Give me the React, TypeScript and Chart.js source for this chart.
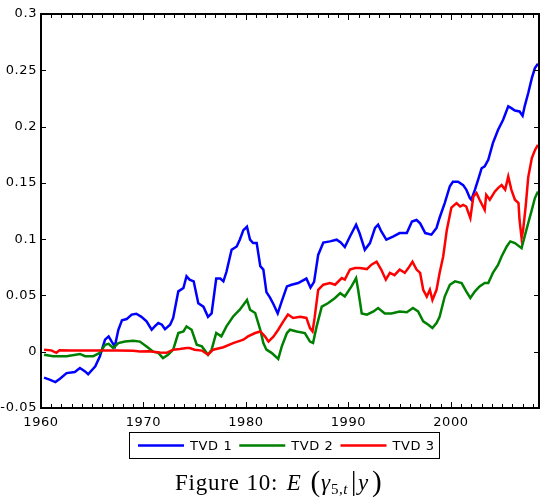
import { useEffect, useRef, useState } from 'react';
import { Chart, registerables } from 'chart.js';

Chart.register(...registerables);

// TVD 1 posterior mean path
const tvd1Years = [
  1960.3, 1960.9, 1961.4, 1961.85, 1962.5, 1963.3, 1963.8, 1964.3, 1964.6, 1965.3,
  1965.75, 1966.25, 1966.6, 1966.9, 1967.2, 1967.55, 1967.9, 1968.36, 1968.85, 1969.3,
  1969.8, 1970.3, 1970.8, 1971.1, 1971.45, 1971.8, 1972.1, 1972.6, 1972.9, 1973.4,
  1973.9, 1974.2, 1974.5, 1974.9, 1975.35, 1975.85, 1976.3, 1976.65, 1977.1, 1977.5,
  1977.8, 1978.1, 1978.6, 1979.1, 1979.4, 1979.75, 1980.1, 1980.4, 1980.7, 1981.05,
  1981.4, 1981.7, 1982.0, 1982.35, 1982.7, 1983.1, 1983.5, 1984.0, 1984.45, 1985.1,
  1985.4, 1985.9, 1986.3, 1986.65, 1987.05, 1987.55, 1988.2, 1988.85, 1989.25, 1989.65,
  1990.15, 1990.75, 1991.1, 1991.6, 1992.1, 1992.6, 1992.9, 1993.2, 1993.7, 1994.4,
  1995.0, 1995.7, 1996.2, 1996.65, 1997.0, 1997.5, 1998.1, 1998.6, 1998.9, 1999.4,
  1999.9, 2000.2, 2000.7, 2001.2, 2001.5, 2001.85, 2002.0, 2002.35, 2002.7, 2003.0,
  2003.3, 2003.65, 2004.1, 2004.6, 2005.1, 2005.6, 2005.9, 2006.25, 2006.7, 2007.0,
  2007.2, 2007.55, 2007.9, 2008.2, 2008.5,
];
const tvd1Values = [
  -0.023, -0.025, -0.027, -0.024, -0.019, -0.018, -0.0145, -0.0175, -0.02, -0.013,
  -0.004, 0.0107, 0.0136, 0.009, 0.0047, 0.0195, 0.028, 0.029, 0.033, 0.0337,
  0.031, 0.027, 0.0195, 0.0225, 0.0255, 0.024, 0.02, 0.024, 0.03, 0.0536,
  0.0566, 0.067, 0.064, 0.0625, 0.043, 0.04, 0.031, 0.034, 0.065, 0.065,
  0.0625, 0.071, 0.0906, 0.0935, 0.0995, 0.108, 0.111, 0.0995, 0.0965, 0.0965,
  0.076, 0.073, 0.053, 0.048, 0.042, 0.034, 0.045, 0.058, 0.0595, 0.061,
  0.0625, 0.065, 0.057, 0.062, 0.086, 0.097, 0.098, 0.0995, 0.097, 0.093,
  0.1024, 0.1128, 0.105, 0.0906, 0.0965, 0.11, 0.1128, 0.107, 0.0995, 0.1024,
  0.1054, 0.1054, 0.1157, 0.117, 0.114, 0.1054, 0.104, 0.11, 0.119, 0.132,
  0.147, 0.151, 0.151, 0.148, 0.144, 0.1365, 0.135, 0.144, 0.154, 0.163,
  0.1646, 0.1705, 0.1853, 0.197, 0.206, 0.218, 0.2164, 0.2143, 0.2134, 0.2096,
  0.218, 0.2298, 0.243, 0.252, 0.2558,
];

// TVD 2 posterior mean path
const tvd2Years = [
  1960.3, 1961.2, 1962.5, 1963.8, 1964.3, 1965.1, 1965.75, 1966.25, 1966.6, 1967.05,
  1967.55, 1968.2, 1969.0, 1969.65, 1970.3, 1970.95, 1971.45, 1971.9, 1972.4, 1972.9,
  1973.4, 1973.9, 1974.2, 1974.7, 1975.2, 1975.7, 1976.3, 1976.65, 1977.1, 1977.6,
  1978.1, 1978.75, 1979.4, 1980.1, 1980.4, 1980.9, 1981.4, 1981.7, 1982.0, 1982.5,
  1983.15, 1983.5, 1984.0, 1984.3, 1984.95, 1985.75, 1986.25, 1986.55, 1986.9, 1987.4,
  1988.0, 1988.7, 1989.2, 1989.65, 1990.3, 1990.75, 1990.95, 1991.3, 1991.8, 1992.45,
  1992.9, 1993.55, 1994.2, 1995.0, 1995.7, 1996.3, 1996.8, 1997.3, 1997.8, 1998.2,
  1998.6, 1998.9, 1999.4, 1999.9, 2000.4, 2001.05, 2001.5, 2001.9, 2002.35, 2002.8,
  2003.3, 2003.65, 2004.1, 2004.6, 2004.95, 2005.45, 2005.8, 2006.25, 2006.9, 2007.2,
  2007.55, 2007.9, 2008.2, 2008.5,
];
const tvd2Values = [
  -0.0027, -0.004, -0.004, -0.002, -0.004, -0.004, -0.001, 0.0062, 0.007, 0.0033,
  0.0077, 0.009, 0.0098, 0.009, 0.0047, 0.0, -0.001, -0.0056, -0.0027, 0.0018,
  0.0166, 0.018, 0.0225, 0.0195, 0.0062, 0.0047, -0.0027, 0.0018, 0.0166, 0.0136,
  0.0225, 0.0313, 0.0373, 0.046, 0.0373, 0.0344, 0.0195, 0.0077, 0.0018, -0.001,
  -0.0065, 0.0047, 0.0166, 0.0195, 0.018, 0.0166, 0.009, 0.0077, 0.0225, 0.04,
  0.043, 0.0477, 0.052, 0.049, 0.058, 0.0654, 0.055, 0.034, 0.0329, 0.0358,
  0.0388, 0.034, 0.034, 0.0358, 0.035, 0.0388, 0.0358, 0.027, 0.024, 0.021,
  0.0255, 0.031, 0.049, 0.0595, 0.0625, 0.061, 0.0536, 0.0477, 0.0536, 0.058,
  0.061, 0.061, 0.07, 0.077, 0.0846, 0.0935, 0.098, 0.0965, 0.092, 0.1024,
  0.1143, 0.126, 0.1365, 0.1424,
];

// TVD 3 posterior mean path
const tvd3Years = [
  1960.3, 1961.0, 1961.5, 1961.8, 1963.0, 1964.5, 1966.0, 1967.5, 1969.0, 1969.65,
  1970.5, 1971.6, 1972.25, 1972.9, 1973.55, 1974.2, 1974.5, 1975.0, 1975.7, 1976.3,
  1976.8, 1977.8, 1978.75, 1979.75, 1980.2, 1980.9, 1981.4, 1981.85, 1982.2, 1982.7,
  1983.15, 1983.65, 1984.1, 1984.6, 1985.3, 1985.9, 1986.25, 1986.5, 1986.7, 1987.05,
  1987.55, 1988.2, 1988.7, 1989.35, 1989.65, 1990.15, 1990.65, 1991.1, 1991.8, 1992.25,
  1992.75, 1993.2, 1993.65, 1994.05, 1994.5, 1995.0, 1995.5, 1995.85, 1996.25, 1996.65,
  1997.0, 1997.3, 1997.65, 1997.95, 1998.2, 1998.6, 1998.9, 1999.25, 1999.6, 2000.05,
  2000.55, 2000.9, 2001.2, 2001.5, 2001.9, 2002.2, 2002.5, 2002.8, 2003.3, 2003.45,
  2003.8, 2004.3, 2004.6, 2004.95, 2005.3, 2005.6, 2005.9, 2006.25, 2006.6, 2006.7,
  2006.9, 2007.05, 2007.3, 2007.55, 2007.9, 2008.2, 2008.5,
];
const tvd3Values = [
  0.0018, 0.0012, -0.001, 0.0012, 0.001, 0.001, 0.001, 0.001, 0.0008, 0.0003,
  0.0005, -0.0006, -0.001, 0.0018, 0.0024, 0.0033, 0.0033, 0.0018, 0.001, -0.0027,
  0.0018, 0.004, 0.0077, 0.0107, 0.0136, 0.0166, 0.018, 0.0136, 0.009, 0.0136,
  0.0195, 0.027, 0.033, 0.03, 0.031, 0.03, 0.021, 0.018, 0.03, 0.055,
  0.0595, 0.061, 0.0595, 0.0654, 0.064, 0.073, 0.0743, 0.0743, 0.0734, 0.0773,
  0.08, 0.073, 0.064, 0.07, 0.068, 0.073, 0.07, 0.0743, 0.08, 0.073,
  0.07, 0.055, 0.049, 0.055, 0.046, 0.055, 0.07, 0.0846, 0.108, 0.128,
  0.132, 0.129, 0.1305, 0.129, 0.1187, 0.138, 0.141, 0.135, 0.126, 0.1394,
  0.135, 0.1424, 0.1454, 0.148, 0.144, 0.1557, 0.144, 0.135, 0.132, 0.117,
  0.101, 0.108, 0.129, 0.155, 0.172, 0.179, 0.1838,
];

const seriesLabels = ['TVD 1', 'TVD 2', 'TVD 3'];
const seriesColors = ['#0000ff', '#008000', '#ff0000'];
const seriesYears = [tvd1Years, tvd2Years, tvd3Years];
const seriesValues = [tvd1Values, tvd2Values, tvd3Values];

const xLabelYears = [1960, 1970, 1980, 1990, 2000];
const xMin = 1960;
const xMax = 2008.6;
const yMin = -0.05;
const yMax = 0.3;
const yStep = 0.05;

const TICK_FONT_FAMILY = '"DejaVu Sans", sans-serif';
const TICK_FONT_SIZE = 13;
const LETTER_SPACING = '0.6px';

// boxed legend under the x axis
const boxLegend = {
  id: 'boxLegend',
  beforeDraw(chart: any) {
    chart.ctx.letterSpacing = LETTER_SPACING;
  },
  afterDraw(chart: any) {
    const ctx = chart.ctx;
    const a = chart.chartArea;
    ctx.save();
    ctx.font = `${TICK_FONT_SIZE}px ${TICK_FONT_FAMILY}`;
    ctx.letterSpacing = LETTER_SPACING;
    const items = chart.data.datasets.map((ds: any) => ({
      label: ds.label,
      color: ds.borderColor,
      w: ctx.measureText(ds.label).width,
    }));
    const sampleLen = 46;
    const gapText = 6;
    const gapItem = 7;
    const padL = 9;
    const padR = 4;
    let total = padL + padR + gapItem * (items.length - 1);
    items.forEach((it: any) => (total += sampleLen + gapText + it.w));
    total = Math.round(total);
    const cx = (a.left + a.right) / 2 - 6;
    const boxL = Math.round(cx - total / 2);
    const boxT = Math.round(a.bottom) + 24;
    const boxH = 26;
    ctx.fillStyle = '#000000';
    ctx.fillRect(boxL, boxT, total, 1);
    ctx.fillRect(boxL, boxT + boxH, total, 1);
    ctx.fillRect(boxL, boxT, 1, boxH + 1);
    ctx.fillRect(boxL + total, boxT, 1, boxH + 1);
    const midY = boxT + boxH / 2 + 0.5;
    let cur = boxL + padL;
    ctx.textBaseline = 'middle';
    ctx.textAlign = 'left';
    items.forEach((it: any) => {
      ctx.strokeStyle = it.color;
      ctx.lineWidth = 2.5;
      ctx.beginPath();
      ctx.moveTo(cur, midY);
      ctx.lineTo(cur + sampleLen, midY);
      ctx.stroke();
      cur += sampleLen + gapText;
      ctx.fillStyle = '#000000';
      ctx.fillText(it.label, cur, midY + 1);
      cur += it.w + gapItem;
    });
    ctx.restore();
  },
};

type AxisBox = {
  L: number;
  R: number;
  T: number;
  B: number;
  yearTicks: { x: number; major: boolean }[];
  valueTicks: number[];
};

export default function App() {
  const canvasRef = useRef<HTMLCanvasElement | null>(null);
  const [box, setBox] = useState<AxisBox | null>(null);

  useEffect(() => {
    const canvas = canvasRef.current;
    if (!canvas) return;
    const datasets = seriesLabels.map((label, i) => ({
      label,
      data: seriesYears[i].map((yr, j) => ({ x: yr, y: seriesValues[i][j] })),
      borderColor: seriesColors[i],
      backgroundColor: seriesColors[i],
      borderWidth: 2.5,
      pointRadius: 0,
      tension: 0,
      fill: false,
      order: seriesLabels.length - i,
    }));
    const chart = new Chart(canvas, {
      type: 'line',
      data: { datasets },
      options: {
        responsive: false,
        animation: false,
        events: [],
        layout: { padding: { top: 14, right: 5, bottom: 70, left: 0 } },
        plugins: { legend: { display: false }, tooltip: { enabled: false } },
        scales: {
          x: {
            type: 'linear',
            min: xMin,
            max: xMax,
            grid: { display: false, drawTicks: false },
            border: { display: false },
            afterBuildTicks: (scale: any) => {
              scale.ticks = xLabelYears.map((v) => ({ value: v }));
            },
            afterFit: (scale: any) => {
              scale.height = 20;
            },
            ticks: {
              autoSkip: false,
              maxRotation: 0,
              padding: 7,
              color: '#000',
              font: { family: TICK_FONT_FAMILY, size: TICK_FONT_SIZE },
              callback: (v: any) => String(v),
            },
          },
          y: {
            type: 'linear',
            min: yMin,
            max: yMax,
            grid: { display: false, drawTicks: false },
            border: { display: false },
            afterFit: (scale: any) => {
              scale.width = 41;
            },
            ticks: {
              stepSize: yStep,
              padding: 4,
              color: '#000',
              font: { family: TICK_FONT_FAMILY, size: TICK_FONT_SIZE },
              callback: (v: any) => String(Number(Number(v).toFixed(2))),
            },
          },
        },
      },
      plugins: [boxLegend],
    } as any);

    // axis box geometry taken from the chart's own scales
    const a = chart.chartArea;
    const sx: any = chart.scales.x;
    const sy: any = chart.scales.y;
    const yearTicks: { x: number; major: boolean }[] = [];
    for (let yr = Math.ceil(xMin); yr <= Math.floor(xMax); yr++) {
      yearTicks.push({ x: Math.round(sx.getPixelForValue(yr)), major: yr % 10 === 0 });
    }
    const valueTicks: number[] = [];
    const nY = Math.round((yMax - yMin) / yStep);
    for (let i = 0; i <= nY; i++) {
      valueTicks.push(Math.round(sy.getPixelForValue(yMin + i * yStep)));
    }
    setBox({
      L: Math.round(a.left),
      R: Math.round(a.right),
      T: Math.round(a.top),
      B: Math.round(a.bottom),
      yearTicks,
      valueTicks,
    });
    return () => chart.destroy();
  }, []);

  const line = (left: number, top: number, width: number, height: number, key: string) => (
    <div
      key={key}
      style={{ position: 'absolute', left, top, width, height, background: '#000', pointerEvents: 'none' }}
    />
  );

  const overlay: any[] = [];
  if (box) {
    const { L, R, T, B } = box;
    overlay.push(line(L - 1, T - 1, R - L + 2, 2, 'top'));
    overlay.push(line(L - 1, B - 1, R - L + 2, 2, 'bottom'));
    overlay.push(line(L - 1, T - 1, 2, B - T + 2, 'left'));
    overlay.push(line(R - 1, T - 1, 2, B - T + 2, 'right'));
    box.yearTicks.forEach((t, i) => {
      const len = t.major ? 6 : 4;
      overlay.push(line(t.x, B - len, 1, len, `xb${i}`));
      overlay.push(line(t.x, T, 1, len, `xt${i}`));
    });
    box.valueTicks.forEach((y, i) => {
      overlay.push(line(L, y, 5, 1, `yl${i}`));
      overlay.push(line(R - 5, y, 5, 1, `yr${i}`));
    });
  }

  return (
    <div
      style={{
        position: 'absolute',
        left: 0,
        top: 0,
        width: 544,
        height: 498,
        background: '#fff',
      }}
    >
      <canvas ref={canvasRef} width={544} height={498} style={{ display: 'block', width: 544, height: 498 }} />
      {overlay}
      <div
        style={{
          position: 'absolute',
          left: 175,
          top: 469,
          fontFamily: '"Liberation Serif", "DejaVu Serif", serif',
          fontSize: 23,
          lineHeight: '22px',
          letterSpacing: '0.8px',
          color: '#000',
          whiteSpace: 'nowrap',
        }}
      >
        Figure 10: <i style={{ marginLeft: 2, marginRight: 9 }}>E</i>
        <span style={{ fontSize: 29, position: 'relative', top: 1 }}>(</span>
        <i>γ</i>
        <sub style={{ fontSize: 15, verticalAlign: '-4px', letterSpacing: '0.5px' }}>
          5,<i>t</i>
        </sub>
        <span style={{ fontSize: 27, marginLeft: 3 }}>|</span>
        <i style={{ marginLeft: 1 }}>y</i>
        <span style={{ fontSize: 29, position: 'relative', top: 1, marginLeft: 3 }}>)</span>
      </div>
    </div>
  );
}
